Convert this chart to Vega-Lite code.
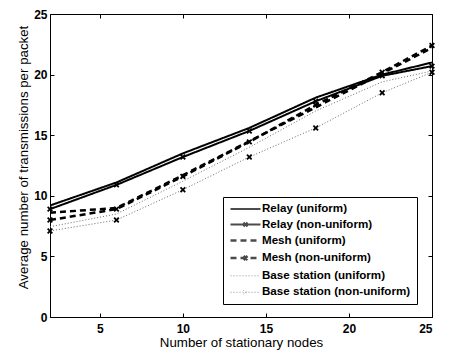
{
  "$schema": "https://vega.github.io/schema/vega-lite/v6.json",
  "width": 382,
  "height": 303,
  "autosize": {"type": "none"},
  "padding": {"left": 50, "top": 14, "right": 18, "bottom": 39},
  "config": {
    "font": "Liberation Sans",
    "view": {"stroke": "black", "strokeWidth": 1},
    "axis": {
      "domainColor": "black",
      "tickColor": "black",
      "labelColor": "black",
      "titleColor": "black",
      "grid": false,
      "labelFont": "Liberation Sans",
      "labelFontWeight": "bold",
      "labelFontSize": 12,
      "titleFont": "Liberation Sans",
      "titleFontWeight": "normal",
      "titleFontSize": 13.3,
      "tickSize": -4
    },
    "legend": {
      "labelFont": "Liberation Sans",
      "labelFontWeight": "bold",
      "labelFontSize": 11.6,
      "labelColor": "black"
    }
  },
  "data": {
    "values": [
      {"series": "Relay (uniform)", "x": 2, "y": 9.2},
      {"series": "Relay (uniform)", "x": 6, "y": 11.1},
      {"series": "Relay (uniform)", "x": 10, "y": 13.5},
      {"series": "Relay (uniform)", "x": 14, "y": 15.6},
      {"series": "Relay (uniform)", "x": 18, "y": 18.1},
      {"series": "Relay (uniform)", "x": 22, "y": 20.0},
      {"series": "Relay (uniform)", "x": 25, "y": 21.0},
      {"series": "Relay (non-uniform)", "x": 2, "y": 8.9},
      {"series": "Relay (non-uniform)", "x": 6, "y": 10.9},
      {"series": "Relay (non-uniform)", "x": 10, "y": 13.2},
      {"series": "Relay (non-uniform)", "x": 14, "y": 15.35},
      {"series": "Relay (non-uniform)", "x": 18, "y": 17.8},
      {"series": "Relay (non-uniform)", "x": 22, "y": 19.9},
      {"series": "Relay (non-uniform)", "x": 25, "y": 20.7},
      {"series": "Mesh (uniform)", "x": 2, "y": 8.6},
      {"series": "Mesh (uniform)", "x": 6, "y": 9.0},
      {"series": "Mesh (uniform)", "x": 10, "y": 11.7},
      {"series": "Mesh (uniform)", "x": 14, "y": 14.5},
      {"series": "Mesh (uniform)", "x": 18, "y": 17.3},
      {"series": "Mesh (uniform)", "x": 22, "y": 20.1},
      {"series": "Mesh (uniform)", "x": 25, "y": 22.2},
      {"series": "Mesh (non-uniform)", "x": 2, "y": 8.0},
      {"series": "Mesh (non-uniform)", "x": 6, "y": 8.9},
      {"series": "Mesh (non-uniform)", "x": 10, "y": 11.6},
      {"series": "Mesh (non-uniform)", "x": 14, "y": 14.45},
      {"series": "Mesh (non-uniform)", "x": 18, "y": 17.5},
      {"series": "Mesh (non-uniform)", "x": 22, "y": 20.2},
      {"series": "Mesh (non-uniform)", "x": 25, "y": 22.4},
      {"series": "Base station (uniform)", "x": 2, "y": 7.45},
      {"series": "Base station (uniform)", "x": 6, "y": 8.5},
      {"series": "Base station (uniform)", "x": 10, "y": 11.2},
      {"series": "Base station (uniform)", "x": 14, "y": 14.0},
      {"series": "Base station (uniform)", "x": 18, "y": 17.0},
      {"series": "Base station (uniform)", "x": 22, "y": 19.4},
      {"series": "Base station (uniform)", "x": 25, "y": 20.3},
      {"series": "Base station (non-uniform)", "x": 2, "y": 7.1},
      {"series": "Base station (non-uniform)", "x": 6, "y": 8.0},
      {"series": "Base station (non-uniform)", "x": 10, "y": 10.5},
      {"series": "Base station (non-uniform)", "x": 14, "y": 13.2},
      {"series": "Base station (non-uniform)", "x": 18, "y": 15.6},
      {"series": "Base station (non-uniform)", "x": 22, "y": 18.5},
      {"series": "Base station (non-uniform)", "x": 25, "y": 20.2}
    ]
  },
  "layer": [
    {
      "mark": {"type": "line", "clip": true},
      "encoding": {
        "x": {
          "field": "x", "type": "quantitative",
          "scale": {"domain": [2, 25], "nice": false, "zero": false},
          "axis": {"title": "Number of stationary nodes", "values": [5, 10, 15, 20, 25], "labelPadding": 10, "titlePadding": 1, "labelFontWeight": "bold"}
        },
        "y": {
          "field": "y", "type": "quantitative",
          "scale": {"domain": [0, 25], "nice": false},
          "axis": {"title": "Average number of transmissions per packet", "values": [0, 5, 10, 15, 20, 25], "labelPadding": 7, "titleX": -20, "titleY": 143, "labelFontWeight": "bold"}
        },
        "strokeDash": {
          "field": "series", "type": "nominal",
          "scale": {
            "domain": ["Relay (uniform)", "Relay (non-uniform)", "Mesh (uniform)", "Mesh (non-uniform)", "Base station (uniform)", "Base station (non-uniform)"],
            "range": [[1, 0], [1, 0], [6, 4], [6, 4], [1, 2], [1, 2]]
          },
          "legend": {
            "title": null,
            "orient": "none",
            "legendX": 173,
            "legendY": 183,
            "strokeColor": "black",
            "fillColor": "white",
            "padding": 6,
            "rowPadding": 3.5,
            "labelOffset": 20,
            "symbolSize": 100,
            "symbolStrokeWidth": 2
          }
        },
        "color": {
          "field": "series", "type": "nominal",
          "scale": {
            "domain": ["Relay (uniform)", "Relay (non-uniform)", "Mesh (uniform)", "Mesh (non-uniform)", "Base station (uniform)", "Base station (non-uniform)"],
            "range": ["#000000", "#000000", "#000000", "#000000", "#6a6a6a", "#6a6a6a"]
          }
        },
        "strokeWidth": {
          "field": "series", "type": "nominal",
          "scale": {
            "type": "ordinal",
            "domain": ["Relay (uniform)", "Relay (non-uniform)", "Mesh (uniform)", "Mesh (non-uniform)", "Base station (uniform)", "Base station (non-uniform)"],
            "range": [2, 2, 2.5, 2.5, 1, 1]
          }
        }
      }
    },
    {
      "transform": [{"filter": "indexof(datum.series, 'non-uniform') >= 0"}],
      "mark": {
        "type": "point",
        "shape": "M-1,-1L1,1M-1,1L1,-1",
        "filled": false,
        "stroke": "black",
        "strokeWidth": 1.8,
        "size": 22,
        "opacity": 1
      },
      "encoding": {
        "x": {
          "field": "x", "type": "quantitative",
          "axis": {"orient": "top", "title": null, "labels": false, "values": [5, 10, 15, 20, 25], "domain": false}
        },
        "y": {
          "field": "y", "type": "quantitative",
          "axis": {"orient": "right", "title": null, "labels": false, "values": [0, 5, 10, 15, 20, 25], "domain": false}
        }
      }
    },
    {
      "description": "Legend key glyphs: a line segment, with a cross for the non-uniform series",
      "transform": [{"filter": "false"}],
      "mark": {"type": "point", "filled": false, "strokeWidth": 2},
      "encoding": {
        "shape": {
          "field": "series", "type": "nominal",
          "scale": {
            "domain": ["Relay (uniform)", "Relay (non-uniform)", "Mesh (uniform)", "Mesh (non-uniform)", "Base station (uniform)", "Base station (non-uniform)"],
            "range": [
              "M-1,0H5",
              "M-1,0H5M1.6,-0.4L2.4,0.4M1.6,0.4L2.4,-0.4",
              "M-1,0H5",
              "M-1,0H5M1.6,-0.4L2.4,0.4M1.6,0.4L2.4,-0.4",
              "M-1,0H5",
              "M-1,0H5M1.6,-0.4L2.4,0.4M1.6,0.4L2.4,-0.4"
            ]
          },
          "legend": {
            "title": null,
            "orient": "none",
            "legendX": 173,
            "legendY": 183,
            "strokeColor": "black",
            "fillColor": "white",
            "padding": 6,
            "rowPadding": 3.5,
            "labelOffset": 20,
            "symbolSize": 100,
            "symbolStrokeWidth": 2
          }
        }
      }
    }
  ],
  "resolve": {"axis": {"x": "independent", "y": "independent"}}
}
